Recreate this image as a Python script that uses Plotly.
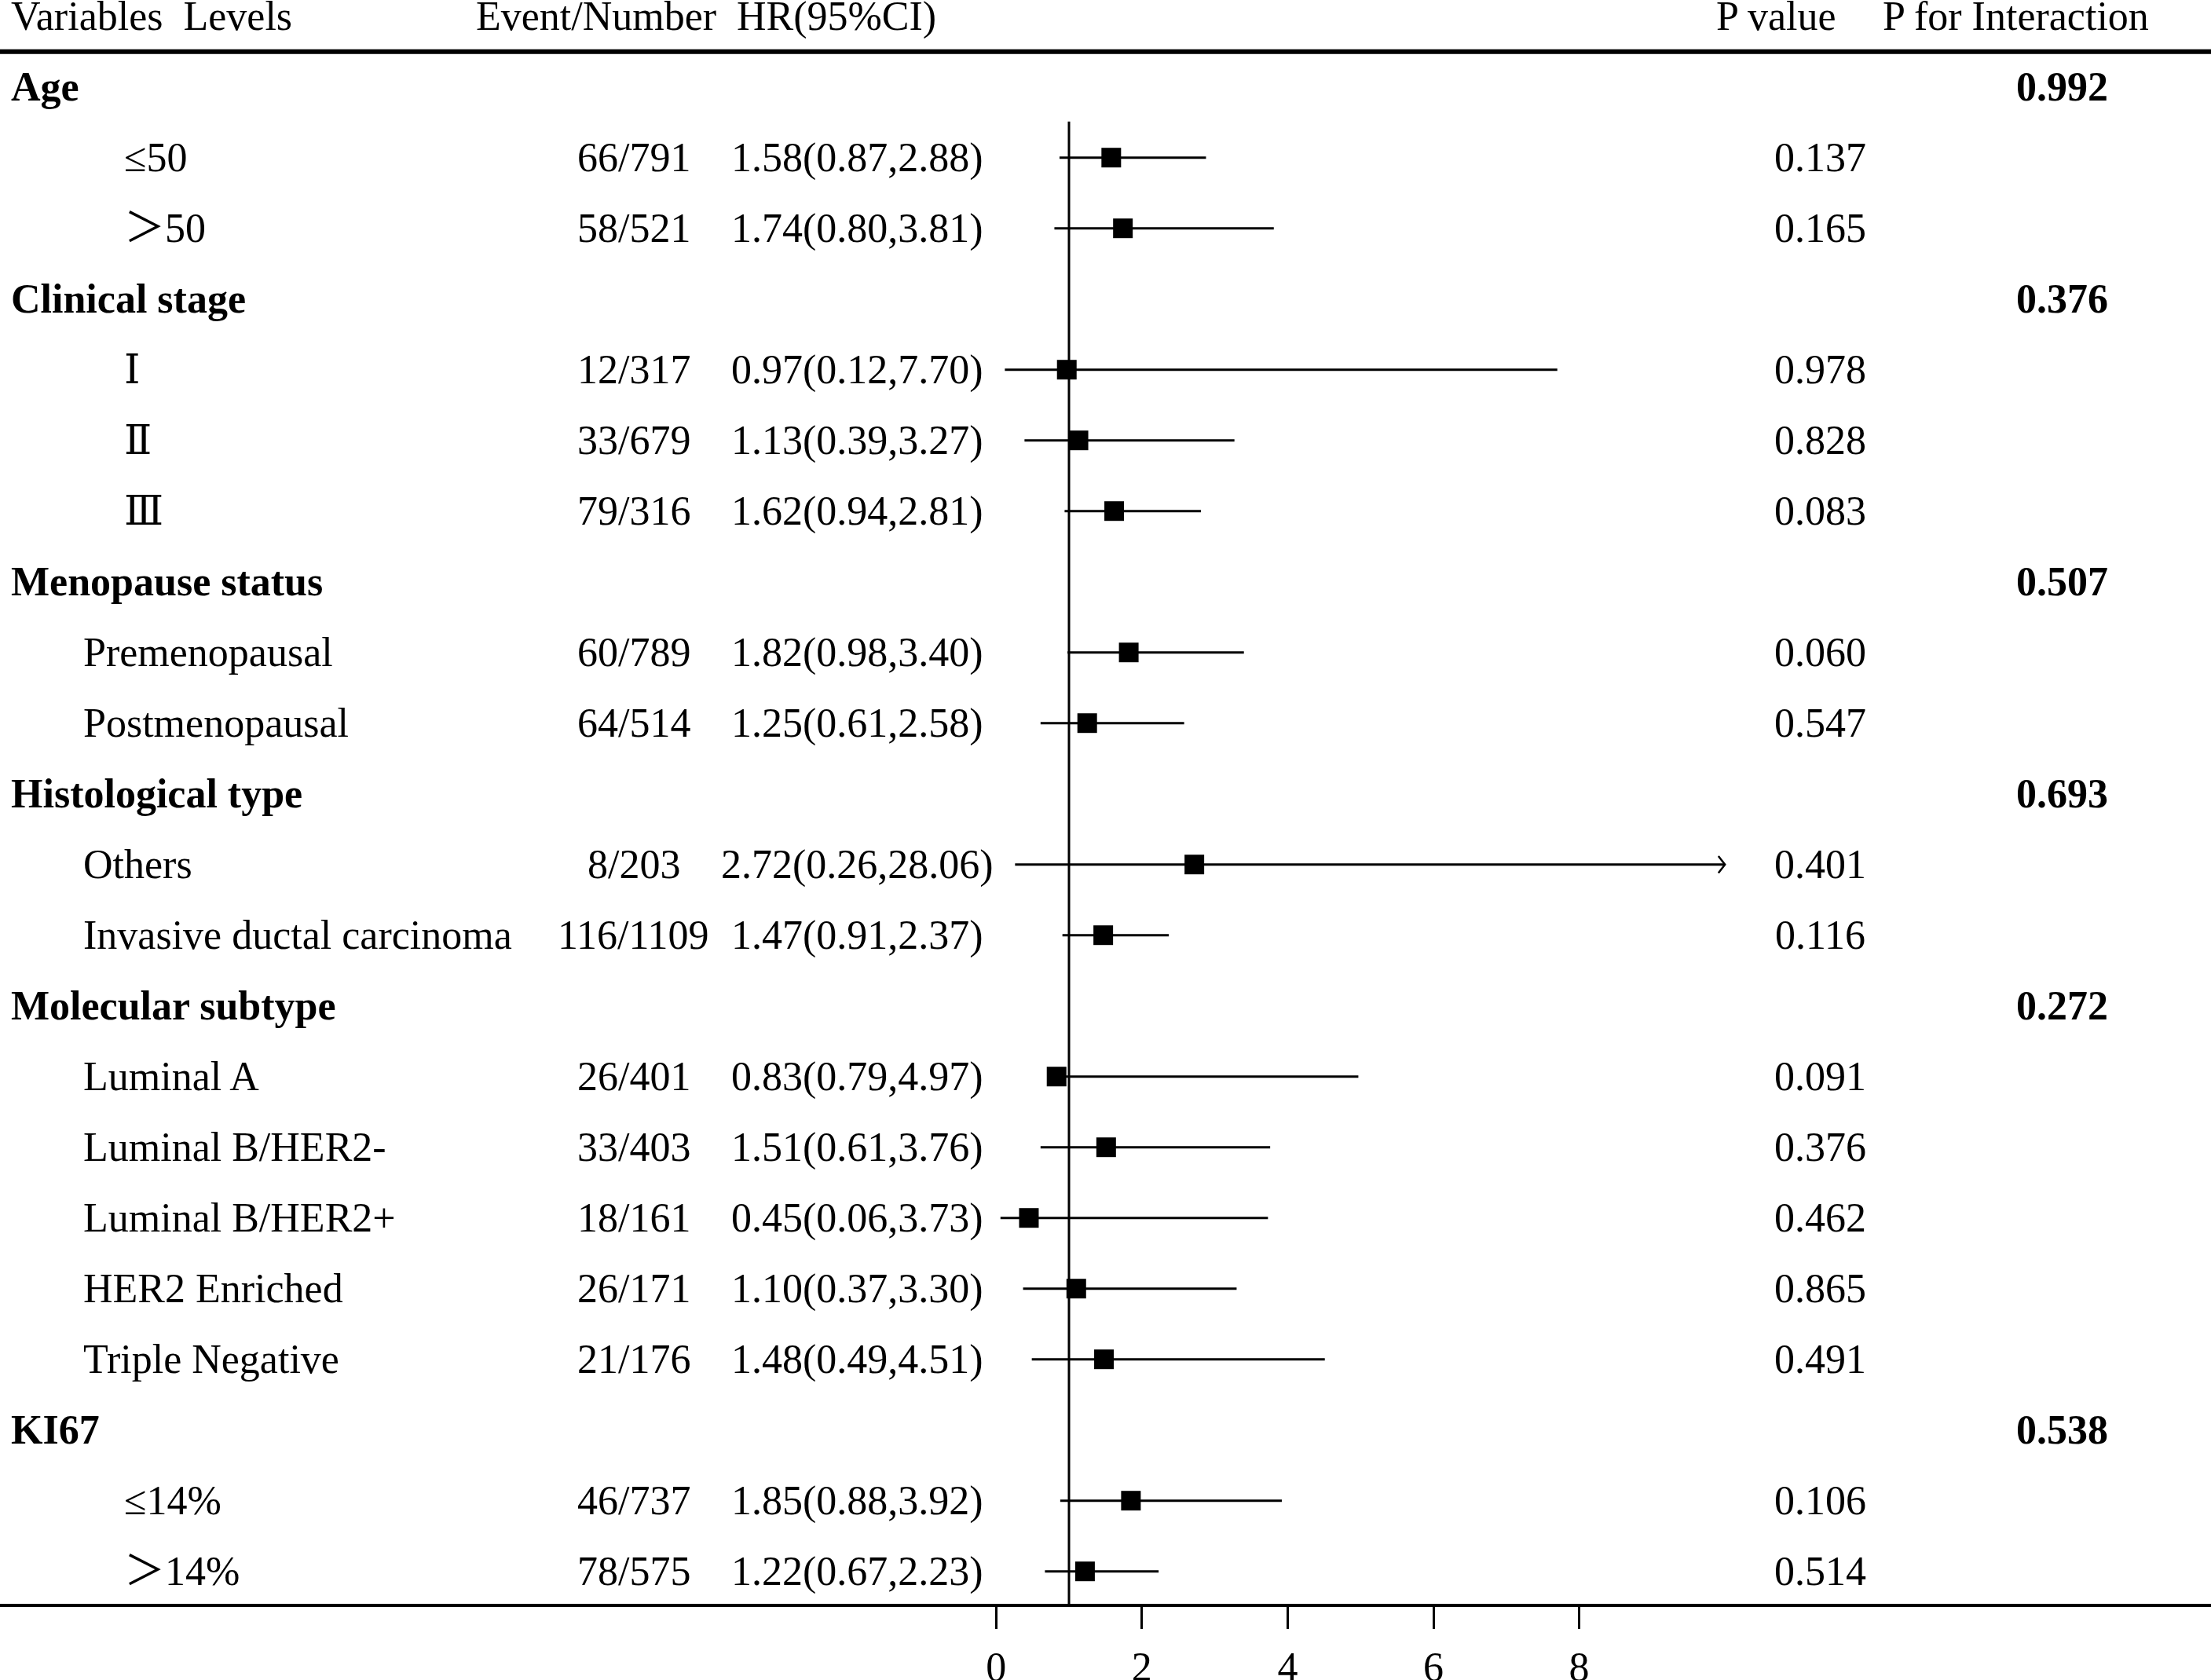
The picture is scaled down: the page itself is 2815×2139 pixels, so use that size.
import plotly.graph_objects as go

# subgroup data
groups = ["Age", "Clinical stage", "Menopause status", "Histological type",
          "Molecular subtype", "KI67"]
p_interaction = ["0.992", "0.376", "0.507", "0.693", "0.272", "0.538"]

level_group = ["Age", "Age",
               "Clinical stage", "Clinical stage", "Clinical stage",
               "Menopause status", "Menopause status",
               "Histological type", "Histological type",
               "Molecular subtype", "Molecular subtype", "Molecular subtype",
               "Molecular subtype", "Molecular subtype",
               "KI67", "KI67"]
levels = ["≤50", "＞50",
          "Ⅰ", "Ⅱ", "Ⅲ",
          "Premenopausal", "Postmenopausal",
          "Others", "Invasive ductal carcinoma",
          "Luminal A", "Luminal B/HER2-", "Luminal B/HER2+", "HER2 Enriched",
          "Triple Negative",
          "≤14%", "＞14%"]
events = ["66/791", "58/521",
          "12/317", "33/679", "79/316",
          "60/789", "64/514",
          "8/203", "116/1109",
          "26/401", "33/403", "18/161", "26/171", "21/176",
          "46/737", "78/575"]
hr = [1.58, 1.74, 0.97, 1.13, 1.62, 1.82, 1.25, 2.72, 1.47,
      0.83, 1.51, 0.45, 1.10, 1.48, 1.85, 1.22]
lower = [0.87, 0.80, 0.12, 0.39, 0.94, 0.98, 0.61, 0.26, 0.91,
         0.79, 0.61, 0.06, 0.37, 0.49, 0.88, 0.67]
upper = [2.88, 3.81, 7.70, 3.27, 2.81, 3.40, 2.58, 28.06, 2.37,
         4.97, 3.76, 3.73, 3.30, 4.51, 3.92, 2.23]
p_value = ["0.137", "0.165", "0.978", "0.828", "0.083", "0.060", "0.547",
           "0.401", "0.116", "0.091", "0.376", "0.462", "0.865", "0.491",
           "0.106", "0.514"]

x_ticks = [0, 2, 4, 6, 8]
x_clip = 10

# page geometry (pixels)
W, H = 2815, 2139
ROW0, ROWH = 110.7, 90.0          # centre of first row, row spacing
X0_PX, UNIT_PX = 1268.2, 92.8     # pixel of HR = 0, pixels per HR unit
AXIS_PX = 2044
FONT = "Liberation Serif, DejaVu Serif, Noto Sans CJK SC, serif"
FS = 52

deep_indent = {"Age", "Clinical stage", "KI67"}

# row positions
y_group, y_level = [], [0] * len(levels)
r = 0
for g in groups:
    y_group.append(r)
    r += 1
    for j in range(len(levels)):
        if level_group[j] == g:
            y_level[j] = r
            r += 1

axis_row = (AXIS_PX - ROW0) / ROWH

fig = go.Figure()

# CI lines (clipped at x_clip)
ci_x, ci_y = [], []
for lo, hi, y in zip(lower, upper, y_level):
    ci_x += [lo, min(hi, x_clip), None]
    ci_y += [y, y, None]
fig.add_trace(go.Scatter(x=ci_x, y=ci_y, mode="lines",
                         line=dict(color="black", width=3),
                         hoverinfo="skip", showlegend=False))

# open arrow heads where CI runs past the clip
ar_x, ar_y = [], []
for hi, y in zip(upper, y_level):
    if hi > x_clip:
        ar_x += [x_clip - 0.09, x_clip, x_clip - 0.09, None]
        ar_y += [y - 0.12, y, y + 0.12, None]
fig.add_trace(go.Scatter(x=ar_x, y=ar_y, mode="lines",
                         line=dict(color="black", width=2.5),
                         hoverinfo="skip", showlegend=False))

# point estimates
fig.add_trace(go.Scatter(x=hr, y=y_level, mode="markers",
                         marker=dict(symbol="square", size=25, color="black"),
                         showlegend=False))

ann = []


def txt(x_px, y, s, anchor="left", bold=False):
    ann.append(dict(x=x_px / W, xref="paper", y=y, yref="y",
                    text=f"<b>{s}</b>" if bold else s,
                    xanchor=anchor, yanchor="middle", showarrow=False,
                    font=dict(family=FONT, size=FS, color="black")))


# header
txt(12, -1, "Variables\u00a0\u00a0Levels")
txt(759, -1, "Event/Number", "center")
txt(936, -1, "HR(95%CI)")
txt(2261, -1, "P value", "center")
txt(2566, -1, "P for Interaction", "center")

for g, p, y in zip(groups, p_interaction, y_group):
    txt(12, y, g, bold=True)
    txt(2625, y, p, "center", bold=True)

for j, y in enumerate(y_level):
    indent = 156 if level_group[j] in deep_indent else 104
    txt(indent, y, levels[j])
    txt(807, y, events[j], "center")
    txt(1091, y, f"{hr[j]:.2f}({lower[j]:.2f},{upper[j]:.2f})", "center")
    txt(2317, y, p_value[j], "center")

shapes = [
    dict(type="line", xref="paper", yref="y", x0=0, x1=1, y0=-0.5, y1=-0.5,
         line=dict(color="black", width=6)),
    dict(type="line", xref="x", yref="y", x0=1, x1=1, y0=0.49, y1=axis_row,
         line=dict(color="black", width=3)),
]

fig.update_layout(
    width=W, height=H,
    margin=dict(l=0, r=0, t=0, b=0),
    paper_bgcolor="white", plot_bgcolor="white",
    annotations=ann, shapes=shapes,
    xaxis=dict(range=[-X0_PX / UNIT_PX, (W - X0_PX) / UNIT_PX],
               tickvals=x_ticks, ticks="outside", ticklen=28, tickwidth=3,
               tickcolor="black", showline=True, linewidth=3.5,
               linecolor="black", showgrid=False, zeroline=False,
               anchor="free", position=1 - AXIS_PX / H, automargin=False,
               ticklabelstandoff=4,
               tickfont=dict(family=FONT, size=FS, color="black")),
    yaxis=dict(range=[(H - ROW0) / ROWH, -ROW0 / ROWH], visible=False,
               automargin=False),
)

fig.write_html("out.html", config={"displayModeBar": False},
               post_script="document.body.style.margin='0';"
                           "document.body.style.overflow='hidden';")
